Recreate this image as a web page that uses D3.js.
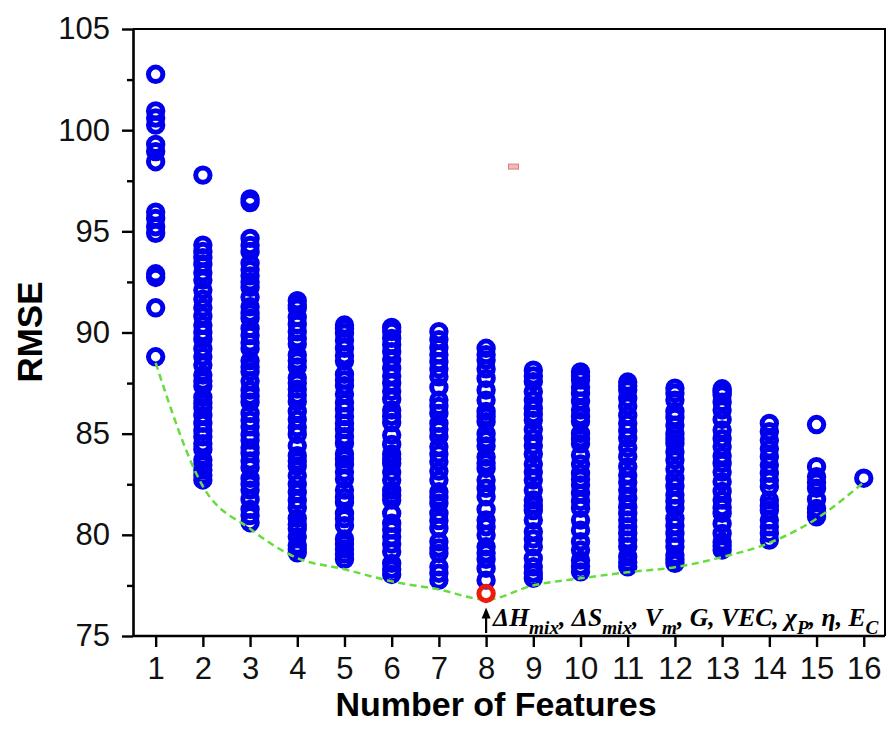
<!DOCTYPE html>
<html><head><meta charset="utf-8">
<script src="https://cdn.jsdelivr.net/npm/d3@7"></script>
<style>body{margin:0;background:#fff}</style>
</head><body><svg id="c" width="887" height="747"></svg>
<script>
// ---- data ----
const xTicks = [1,2,3,4,5,6,7,8,9,10,11,12,13,14,15,16];
const yTicks = [75,80,85,90,95,100,105];
const yMinorTicks = [77.5,82.5,87.5,92.5,97.5,102.5];

const rmse1  = [102.76,100.95,100.6,100.25,99.3,98.94,98.44,95.95,95.64,95.23,94.9,92.9,92.72,91.22,88.8];
const rmse2  = [97.78,94.32,94.0,93.7,93.37,92.95,92.59,92.1,91.65,91.22,90.8,90.36,90.0,89.66,89.2,88.8,88.39,87.9,87.6,87.35,86.8,86.5,86.28,85.9,85.51,85.15,84.85,84.5,84.22,83.7,83.45,83.2,82.95,82.71];
const rmse3  = [96.6,96.42,94.65,94.3,94.0,93.42,93.1,92.8,92.5,92.23,91.75,91.27,90.95,90.7,90.2,89.85,89.49,89.2,88.6,88.3,88.06,87.6,87.16,86.85,86.55,86.0,85.65,85.34,84.95,84.68,84.3,84.03,83.65,83.32,82.79,82.5,82.21,81.75,81.26,80.95,80.6];
const rmse4  = [91.57,91.35,91.2,90.75,90.4,90.04,89.7,89.43,88.89,88.6,88.3,87.76,87.5,87.2,86.9,86.58,86.1,85.7,85.3,84.96,84.4,83.91,83.65,83.4,82.92,82.5,82.1,81.7,81.34,80.81,80.5,80.3,79.9,79.49,79.3,79.11];
const rmse5  = [90.37,90.2,89.96,89.6,89.22,88.85,88.59,87.93,87.65,87.37,86.95,86.53,86.2,85.84,85.5,85.21,84.85,84.52,84.0,83.75,83.48,83.1,82.76,82.21,81.85,81.6,81.06,80.8,80.45,79.8,79.55,79.3,79.05,78.79];
const rmse6  = [90.25,90.05,89.71,89.4,89.05,88.65,88.23,87.85,87.49,87.1,86.7,86.17,85.85,85.55,84.93,84.47,84.0,83.75,83.53,83.1,82.71,82.2,81.95,81.72,81.06,80.57,80.25,79.9,79.55,79.16,78.59,78.3,78.04];
const rmse7  = [90.04,89.65,89.25,88.9,88.56,88.2,87.81,87.29,86.66,86.35,86.0,85.51,85.2,84.85,84.35,84.0,83.61,83.15,82.71,82.13,81.85,81.56,81.06,80.7,80.32,79.66,79.35,79.08,78.42,78.1,77.76];
const rmse8  = [89.22,88.9,88.64,88.2,87.73,87.16,86.66,86.1,85.85,85.59,85.0,84.7,84.39,83.85,83.55,83.28,82.71,82.3,81.88,81.26,80.73,80.4,79.99,79.41,79.1,78.79,78.34,77.76];
const rmse9  = [88.14,87.85,87.57,87.07,86.65,86.25,85.95,85.67,85.2,84.77,84.4,84.0,83.5,83.1,82.71,82.21,81.72,81.45,81.2,80.73,80.15,79.8,79.41,78.84,78.42,78.1,77.85];
const rmse10 = [88.05,87.85,87.65,87.3,86.99,86.6,86.17,85.85,85.6,85.01,84.75,84.5,83.94,83.5,83.04,82.75,82.46,82.05,81.65,81.31,80.73,80.23,79.66,79.25,78.75,78.45,78.17];
const rmse11 = [87.55,87.35,87.16,86.75,86.36,85.9,85.5,85.15,84.77,84.3,83.86,83.37,82.95,82.6,82.21,81.8,81.39,81.05,80.73,80.4,80.07,79.75,79.41,78.92,78.65,78.42];
const rmse12 = [87.25,87.0,86.66,86.1,85.8,85.42,85.0,84.75,84.52,84.1,83.7,83.25,82.79,82.4,81.97,81.65,81.31,80.81,80.45,80.07,79.7,79.41,79.0,78.8,78.59];
const rmse13 = [87.22,87.12,87.05,86.91,86.55,86.17,85.7,85.18,84.75,84.35,83.9,83.53,83.1,82.62,82.15,81.72,81.35,81.06,80.55,80.07,79.65,79.45,79.25];
const rmse14 = [85.51,85.1,84.68,84.25,83.86,83.45,83.04,82.7,82.38,81.72,81.45,81.2,80.73,80.4,80.07,79.74];
const rmse15 = [85.45,83.37,82.87,82.6,82.3,81.75,81.3,81.1,80.89];
const rmse16 = [82.8];
const columns = [rmse1,rmse2,rmse3,rmse4,rmse5,rmse6,rmse7,rmse8,rmse9,rmse10,rmse11,rmse12,rmse13,rmse14,rmse15,rmse16];

const minCurve = [88.5,82.4,80.3,78.85,78.3,77.7,77.3,76.8,77.5,77.85,78.15,78.4,78.9,79.6,80.8,82.6];
const bestCount = 8, bestRmse = 77.1;
const annotationParts = [
  {t:"ΔH"},{t:"mix",sub:true},{t:", ΔS"},{t:"mix",sub:true},{t:", V"},{t:"m",sub:true},
  {t:", G, VEC, χ"},{t:"P",sub:true},{t:", η, E"},{t:"C",sub:true}
];
const artifact = {x:8.58, y:98.2};

// ---- chart ----
const svg = d3.select("#c");
const padL = 133, padR = 885, padT = 29, padB = 636;
const x = d3.scaleLinear().domain([0.52,16.45]).range([padL,padR]);
const y = d3.scaleLinear().domain([75,105]).range([padB,padT]);
const blue = "#0000ec";

// frame top/right
svg.append("path").attr("d",`M${padL},${padT}H${padR}V${padB}`)
  .attr("fill","none").attr("stroke","#000").attr("stroke-width",2);

// points
const pts = [];
columns.forEach((arr,i)=>arr.forEach(v=>pts.push({n:xTicks[i],v})));
svg.append("g").selectAll("circle").data(pts).join("circle")
  .attr("cx",d=>x(d.n)).attr("cy",d=>y(d.v)).attr("r",7.2)
  .attr("fill","none").attr("stroke",blue).attr("stroke-width",5);

// min curve
svg.append("path").datum(minCurve)
  .attr("d", d3.line().x((d,i)=>x(xTicks[i])).y(d=>y(d)).curve(d3.curveMonotoneX))
  .attr("fill","none").attr("stroke","#66dd3c").attr("stroke-width",2.5)
  .attr("stroke-dasharray","7,4.5");

// best point
svg.append("circle").attr("cx",x(bestCount)).attr("cy",y(bestRmse)).attr("r",7.2)
  .attr("fill","none").attr("stroke","#ee1a0a").attr("stroke-width",5);

// tiny artifact
svg.append("rect").attr("x",x(artifact.x)-5).attr("y",y(artifact.y)-2.5).attr("width",10).attr("height",5)
  .attr("fill","#f2b8b8").attr("stroke","#d98080").attr("stroke-width",1);

// axes
const fontTick = "'Liberation Sans', Arial, sans-serif";
const ax = svg.append("g").attr("transform",`translate(0,${padB})`)
  .call(d3.axisBottom(x).tickValues(xTicks).tickFormat(d3.format("d")).tickSize(11).tickSizeOuter(0).tickPadding(10));
const ay = svg.append("g").attr("transform",`translate(${padL},0)`)
  .call(d3.axisLeft(y).tickValues(yTicks).tickSize(11).tickSizeOuter(0).tickPadding(12));
const aym = svg.append("g").attr("transform",`translate(${padL},0)`)
  .call(d3.axisLeft(y).tickValues(yMinorTicks).tickSize(6).tickSizeOuter(0).tickFormat(""));
aym.select(".domain").remove();
[ax,ay,aym].forEach(g=>{
  g.select(".domain").attr("stroke","#000").attr("stroke-width",2.6);
  g.selectAll(".tick line").attr("stroke","#000").attr("stroke-width",2.4);
  g.selectAll("text").attr("font-family",fontTick).attr("font-size",31).attr("fill","#111");
});
ax.select(".domain").attr("d",`M${padL},0H${padR}`);

// axis titles
svg.append("text").attr("transform",`translate(42,332) rotate(-90)`)
  .attr("text-anchor","middle").attr("font-family",fontTick).attr("font-weight","bold")
  .attr("font-size",35).text("RMSE");
svg.append("text").attr("x",496).attr("y",716)
  .attr("text-anchor","middle").attr("font-family",fontTick).attr("font-weight","bold")
  .attr("font-size",34).text("Number of Features");

// annotation arrow
const ax8 = x(bestCount);
svg.append("line").attr("x1",ax8).attr("x2",ax8).attr("y1",padB-3).attr("y2",y(bestRmse)+19)
  .attr("stroke","#000").attr("stroke-width",2.2);
svg.append("path").attr("d",`M${ax8},${y(bestRmse)+14}l-4.5,11h9z`).attr("fill","#000");

// annotation text
const anno = svg.append("text").attr("x",ax8+7).attr("y",626)
  .attr("font-family","'Liberation Serif', 'DejaVu Serif', serif")
  .attr("font-weight","bold").attr("font-style","italic").attr("fill","#000");
function drawAnno(F){
  anno.selectAll("tspan").remove();
  anno.attr("font-size",F);
  let prevSub=false;
  annotationParts.forEach(p=>{
    const t = anno.append("tspan").text(p.t);
    if(p.sub){ t.attr("font-size",F*0.75).attr("dy",F*0.3); }
    else if(prevSub){ t.attr("dy",-F*0.3); }
    prevSub = !!p.sub;
  });
}
drawAnno(22);
const w = anno.node().getBBox().width;
drawAnno(22*388/w);
</script></body></html>
